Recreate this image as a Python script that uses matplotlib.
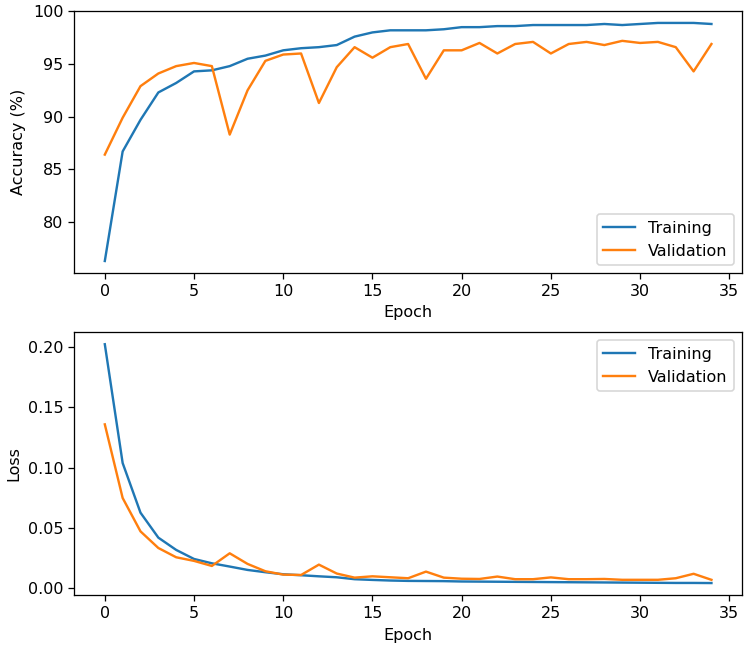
import matplotlib
matplotlib.use("Agg")
import matplotlib.pyplot as plt

epochs = list(range(35))

train_acc = [76.3, 86.7, 89.7, 92.3, 93.2, 94.3, 94.4, 94.8, 95.5, 95.8,
             96.3, 96.5, 96.6, 96.8, 97.6, 98.0, 98.2, 98.2, 98.2, 98.3,
             98.5, 98.5, 98.6, 98.6, 98.7, 98.7, 98.7, 98.7, 98.8, 98.7,
             98.8, 98.9, 98.9, 98.9, 98.8]
val_acc = [86.4, 89.9, 92.9, 94.1, 94.8, 95.1, 94.8, 88.3, 92.5, 95.3,
           95.9, 96.0, 91.3, 94.7, 96.6, 95.6, 96.6, 96.9, 93.6, 96.3,
           96.3, 97.0, 96.0, 96.9, 97.1, 96.0, 96.9, 97.1, 96.8, 97.2,
           97.0, 97.1, 96.6, 94.3, 96.9]

train_loss = [0.2025, 0.1039, 0.0627, 0.042, 0.0318, 0.0243, 0.0207, 0.018,
              0.0152, 0.0133, 0.0116, 0.0108, 0.0099, 0.0091, 0.0075, 0.0069,
              0.0064, 0.0061, 0.006, 0.0059, 0.0056, 0.0055, 0.0054, 0.0053,
              0.0052, 0.0051, 0.005, 0.0049, 0.0048, 0.0047, 0.0046, 0.0045,
              0.0044, 0.0044, 0.0043]
val_loss = [0.136, 0.0749, 0.0472, 0.0334, 0.0257, 0.0227, 0.0185, 0.029,
            0.0202, 0.0141, 0.0113, 0.011, 0.0196, 0.0122, 0.0088, 0.0099,
            0.0091, 0.0083, 0.0138, 0.0088, 0.0079, 0.0077, 0.0097, 0.0075,
            0.0075, 0.009, 0.0075, 0.0075, 0.0077, 0.007, 0.007, 0.007,
            0.0083, 0.012, 0.007]

dpi = 115
fig = plt.figure(figsize=(747 / dpi, 649 / dpi), dpi=dpi)
ax1 = fig.add_axes([0.0997, 0.5795, 0.8933, 0.4035])
ax2 = fig.add_axes([0.0997, 0.0832, 0.8933, 0.4048])

ax1.plot(epochs, train_acc, label="Training")
ax1.plot(epochs, val_acc, label="Validation")
ax1.set_xlabel("Epoch")
ax1.set_ylabel("Accuracy (%)")
ax1.legend(loc="lower right")

ax2.plot(epochs, train_loss, label="Training")
ax2.plot(epochs, val_loss, label="Validation")
ax2.set_xlabel("Epoch")
ax2.set_ylabel("Loss")
ax2.set_yticks([0.0, 0.05, 0.10, 0.15, 0.20])
ax2.legend(loc="upper right")

fig.savefig("out.png", dpi=dpi)
